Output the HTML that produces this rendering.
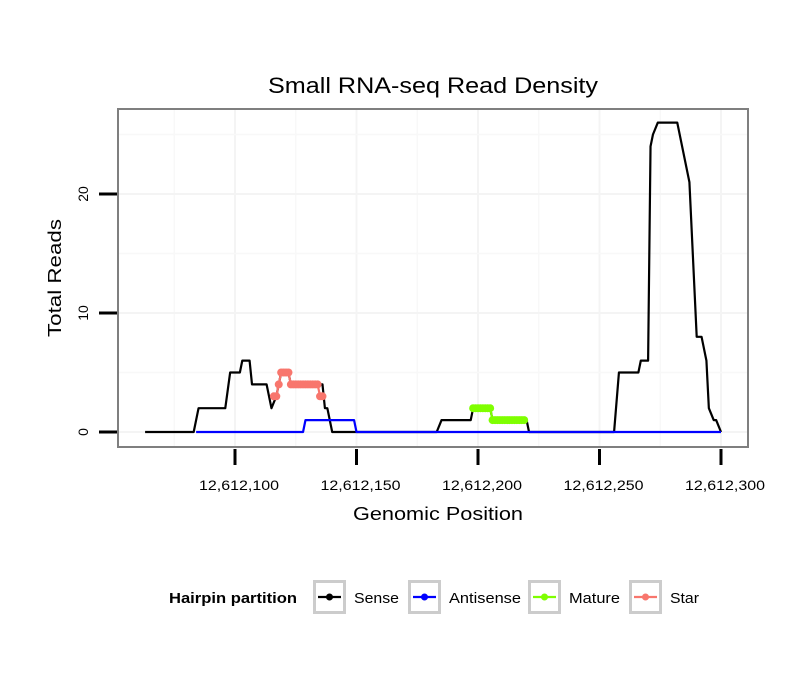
<!DOCTYPE html>
<html><head><meta charset="utf-8"><style>
body{margin:0;background:#fff}
svg{display:block;font-family:"Liberation Sans",sans-serif}
</style></head><body>
<svg id="chart" width="810" height="690">
<rect width="810" height="690" fill="#fff"/>
<text x="433" y="93" text-anchor="middle" font-size="22" textLength="330" lengthAdjust="spacingAndGlyphs">Small RNA-seq Read Density</text>
<g id="grid"></g>
<g id="series"></g>
<rect x="118" y="109" width="630" height="338" fill="none" stroke="#7f7f7f" stroke-width="2"/>
<g id="axes"></g>
<text x="438" y="520" text-anchor="middle" font-size="18" textLength="170" lengthAdjust="spacingAndGlyphs">Genomic Position</text>
<text transform="translate(61,278) rotate(-90)" text-anchor="middle" font-size="18" textLength="118" lengthAdjust="spacingAndGlyphs">Total Reads</text>
<g>
<text x="169" y="603" font-size="15" font-weight="bold" textLength="128" lengthAdjust="spacingAndGlyphs">Hairpin partition</text>
<g id="legend"></g>
</g>
</svg>
<script>
const xTicks=[12612100,12612150,12612200,12612250,12612300];
const xTickLabels=["12,612,100","12,612,150","12,612,200","12,612,250","12,612,300"];
const yTicks=[0,10,20];
const senseX=[12612063,12612083,12612085,12612096,12612098,12612102,12612103,12612106,12612107,12612113,12612115,12612117,12612118,12612119,12612122,12612123,12612136,12612137,12612138,12612140,12612183,12612185,12612197,12612198,12612205,12612206,12612220,12612221,12612256,12612258,12612266,12612267,12612270,12612271,12612272,12612274,12612282,12612287,12612290,12612292,12612294,12612295,12612297,12612298,12612300];
const senseY=[0,0,2,2,5,5,6,6,4,4,2,3,4,5,5,4,4,2,2,0,0,1,1,2,2,1,1,0,0,5,5,6,6,24,25,26,26,21,8,8,6,2,1,1,0];
const antiX=[12612084,12612128,12612129,12612149,12612150,12612300];
const antiY=[0,0,1,1,0,0];
const matureX=[12612198,12612199,12612200,12612201,12612202,12612203,12612204,12612205,12612206,12612207,12612208,12612209,12612210,12612211,12612212,12612213,12612214,12612215,12612216,12612217,12612218,12612219];
const matureY=[2,2,2,2,2,2,2,2,1,1,1,1,1,1,1,1,1,1,1,1,1,1];
const starX=[12612116,12612117,12612118,12612119,12612120,12612121,12612122,12612123,12612124,12612125,12612126,12612127,12612128,12612129,12612130,12612131,12612132,12612133,12612134,12612135,12612136];
const starY=[3,3,4,5,5,5,5,4,4,4,4,4,4,4,4,4,4,4,4,3,3];
const legendLabels=["Sense","Antisense","Mature","Star"];
const legendColors=["#000000","#0000ff","#7fff00","#f8766d"];
const legendWidths=[45,72,51,29];

const NS="http://www.w3.org/2000/svg";
const xs=v=>235+(v-12612100)*2.43;
const ys=v=>432-v*11.9;
function mk(tag,attrs,parent){const e=document.createElementNS(NS,tag);for(const k in attrs)e.setAttribute(k,attrs[k]);parent.appendChild(e);return e;}
const grid=document.getElementById('grid'),axes=document.getElementById('axes'),ser=document.getElementById('series'),leg=document.getElementById('legend');
for(let i=0;i<xTicks.length;i++){
 const x=xs(xTicks[i]);
 const g=mk('line',{x1:x,x2:x,y1:109,y2:447,stroke:'#f4f4f4','stroke-width':2},grid);
 
 
 const xm=xs(xTicks[i]-25);
 const gm=mk('line',{x1:xm,x2:xm,y1:109,y2:447,stroke:'#f8f8f8','stroke-width':1.5},grid);
 
 
 const t=mk('line',{x1:x,x2:x,y1:449,y2:465,stroke:'#000','stroke-width':3},axes);
 
 
 const l=mk('text',{x:x+4,y:490,'text-anchor':'middle','font-size':14,textLength:80,lengthAdjust:'spacingAndGlyphs'},axes);
 l.textContent=xTickLabels[i];
 
 
}
for(let i=0;i<yTicks.length;i++){
 const y=ys(yTicks[i]);
 const g=mk('line',{x1:118,x2:748,y1:y,y2:y,stroke:'#f4f4f4','stroke-width':2},grid);
 
 
 const ym=ys(yTicks[i]+5);
 const gm=mk('line',{x1:118,x2:748,y1:ym,y2:ym,stroke:'#f8f8f8','stroke-width':1.5},grid);
 
 
 const t=mk('line',{x1:99,x2:117,y1:y,y2:y,stroke:'#000','stroke-width':3},axes);
 
 
 const l=mk('text',{transform:`translate(88,${y}) rotate(-90)`,'text-anchor':'middle','font-size':14},axes);
 l.textContent=yTicks[i];
 
 
}
function line(X,Y,color,name,dots){
 const pts=X.map((v,i)=>xs(v)+','+ys(Y[i])).join(' ');
 const p=mk('polyline',{points:pts,fill:'none',stroke:color,'stroke-width':2.2,'stroke-linejoin':'round'},ser);
 
 
 if(dots){for(let i=0;i<X.length;i++){
  const c=mk('circle',{cx:xs(X[i]),cy:ys(Y[i]),r:4,fill:color},ser);
  
  
 }}
}
line(senseX,senseY,'#000','sense-line',false);
line(antiX,antiY,'#0000ff','antisense-line',false);
line(matureX,matureY,'#7fff00','mature-line',true);
line(starX,starY,'#f8766d','star-line',true);
const lx=[313,408,528,629];
for(let i=0;i<legendLabels.length;i++){
 const b=mk('rect',{x:lx[i]+1.5,y:581.5,width:30,height:31,fill:'#fff',stroke:'#cccccc','stroke-width':3},leg);
 
 
 const l=mk('line',{x1:lx[i]+5,x2:lx[i]+28,y1:597,y2:597,stroke:legendColors[i],'stroke-width':2.2},leg);
 
 
 const c=mk('circle',{cx:lx[i]+16.5,cy:597,r:3.5,fill:legendColors[i]},leg);
 
 
 const t=mk('text',{x:lx[i]+41,y:603,'font-size':15,textLength:legendWidths[i],lengthAdjust:'spacingAndGlyphs'},leg);
 t.textContent=legendLabels[i];
 
 
}
</script>
</body></html>
